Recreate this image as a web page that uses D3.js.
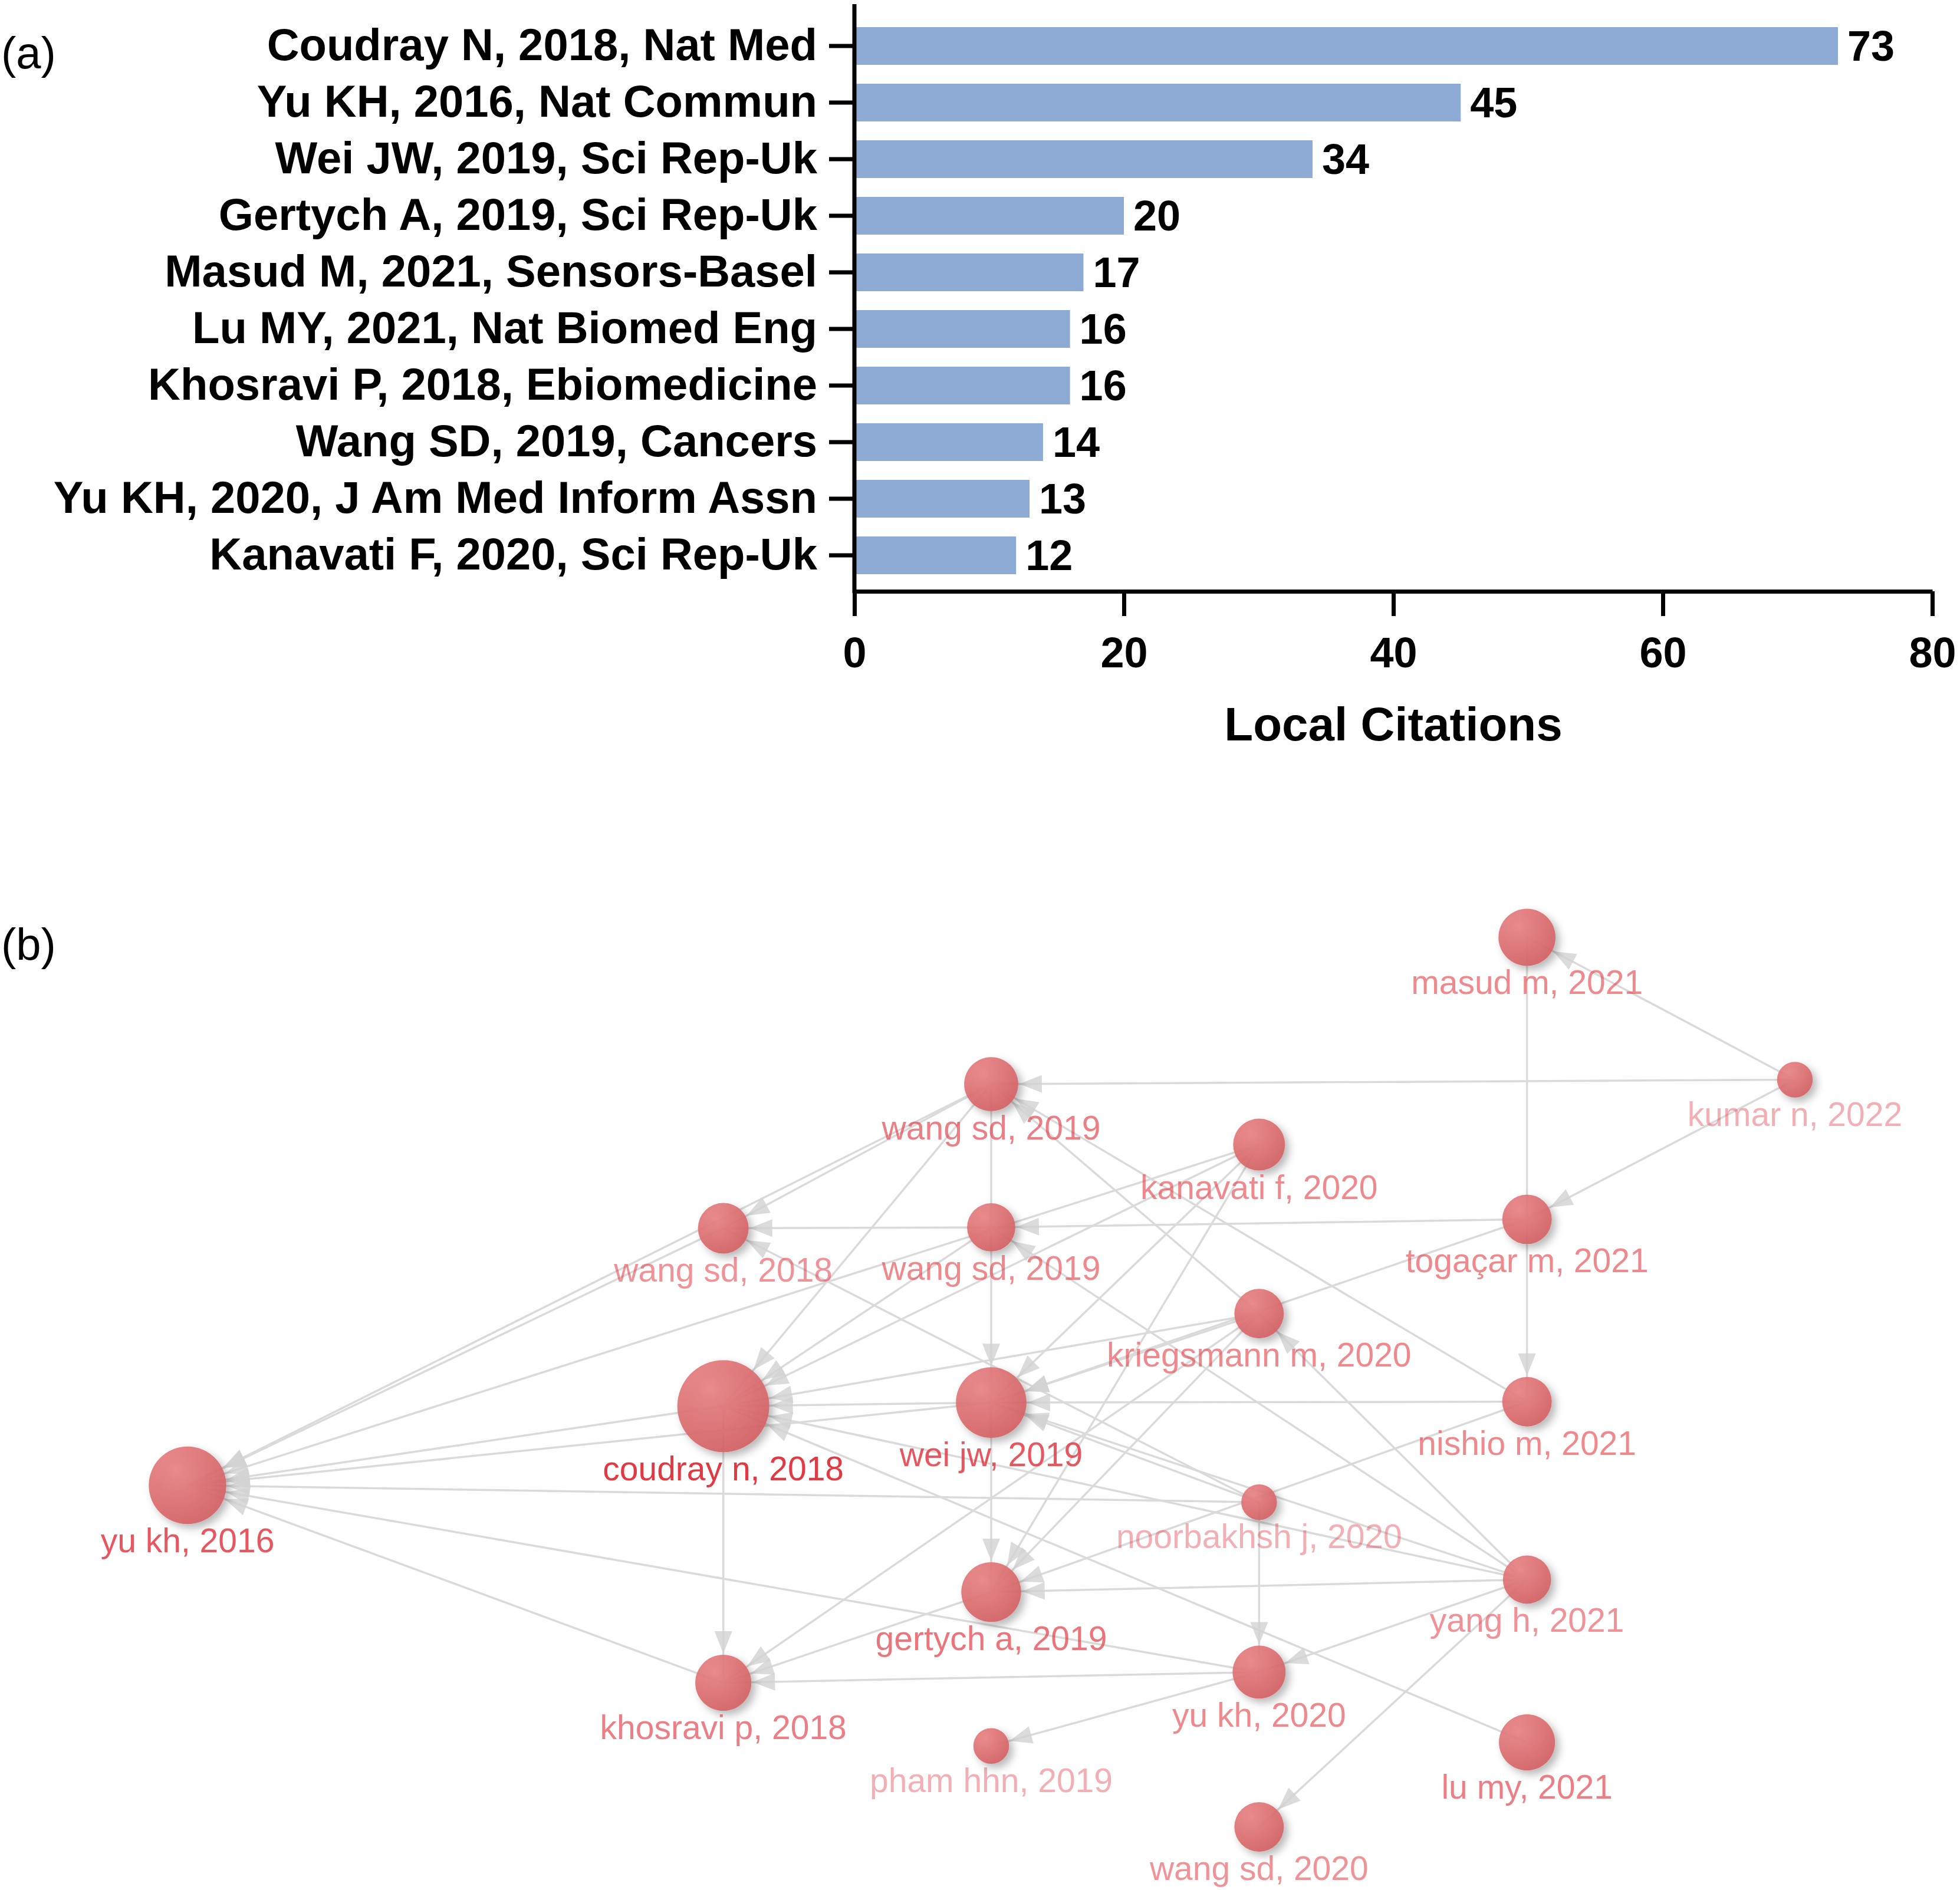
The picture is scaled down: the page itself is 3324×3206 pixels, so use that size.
<!DOCTYPE html>
<html>
<head>
<meta charset="utf-8">
<script src="https://cdn.jsdelivr.net/npm/d3@7"></script>
<style>
  body { margin: 0; background: #fff; }
  text { font-family: Arial, "Liberation Sans", Helvetica, sans-serif; }
</style>
</head>
<body>
<div id="chart"></div>
<script>
// ---- panel (a) data
const articles = ["Coudray N, 2018, Nat Med", "Yu KH, 2016, Nat Commun", "Wei JW, 2019, Sci Rep-Uk",
  "Gertych A, 2019, Sci Rep-Uk", "Masud M, 2021, Sensors-Basel", "Lu MY, 2021, Nat Biomed Eng",
  "Khosravi P, 2018, Ebiomedicine", "Wang SD, 2019, Cancers", "Yu KH, 2020, J Am Med Inform Assn",
  "Kanavati F, 2020, Sci Rep-Uk"]
const citations = [73, 45, 34, 20, 17, 16, 16, 14, 13, 12]
const xTicks = [0, 20, 40, 60, 80]

// ---- panel (b) data
const nodeIds = ["yu16", "coud", "wsd18", "khos", "wsd19a", "wsd19b", "wei", "gert", "pham", "kana",
  "krieg", "noor", "yukh20", "wsd20", "masud", "toga", "nishio", "yang", "lumy", "kumar"]
const nodeLabels = ["yu kh, 2016", "coudray n, 2018", "wang sd, 2018", "khosravi p, 2018", "wang sd, 2019",
  "wang sd, 2019", "wei jw, 2019", "gertych a, 2019", "pham hhn, 2019", "kanavati f, 2020",
  "kriegsmann m, 2020", "noorbakhsh j, 2020", "yu kh, 2020", "wang sd, 2020", "masud m, 2021",
  "togaçar m, 2021", "nishio m, 2021", "yang h, 2021", "lu my, 2021", "kumar n, 2022"]
const nodeYears = [2016, 2018, 2018, 2018, 2019, 2019, 2019, 2019, 2019, 2020,
  2020, 2020, 2020, 2020, 2021, 2021, 2021, 2021, 2021, 2022]
// vertical position in the layout, 0 = top row, 100 = bottom row
const nodeRows = [61.6, 52.7, 32.7, 83.8, 16.5, 32.6, 52.3, 73.6, 90.9, 23.3,
  42.3, 63.5, 82.6, 100, 0, 31.7, 52.2, 72.2, 90.5, 16.0]
const nodeCites = [45, 73, 11, 16, 14, 9, 34, 20, 2, 12, 10, 2, 13, 10, 17, 10, 10, 9, 16, 2]
const labelTone = [0.85, 1, 0.55, 0.65, 0.65, 0.6, 0.85, 0.7, 0.4, 0.6,
  0.6, 0.4, 0.6, 0.55, 0.6, 0.6, 0.6, 0.55, 0.65, 0.4]
// citing -> cited
const links = [
  ["wsd19a", "wsd18"], ["wsd19a", "yu16"], ["wsd19a", "coud"], ["wsd19a", "wei"],
  ["wsd18", "yu16"], ["wsd19b", "wsd18"], ["wsd19b", "coud"],
  ["kana", "yu16"], ["kana", "coud"], ["kana", "wei"], ["kana", "gert"],
  ["coud", "yu16"], ["coud", "khos"], ["wei", "yu16"], ["wei", "coud"], ["wei", "gert"],
  ["noor", "yu16"], ["noor", "wsd18"], ["noor", "wei"], ["noor", "yukh20"],
  ["yukh20", "yu16"], ["yukh20", "khos"], ["yukh20", "pham"], ["khos", "yu16"],
  ["krieg", "wsd19a"], ["krieg", "coud"], ["krieg", "wei"], ["krieg", "gert"], ["krieg", "khos"],
  ["nishio", "wsd19a"], ["nishio", "wei"], ["nishio", "gert"],
  ["toga", "wsd19b"], ["toga", "wei"], ["masud", "nishio"],
  ["kumar", "masud"], ["kumar", "wsd19a"], ["kumar", "toga"],
  ["yang", "wsd19b"], ["yang", "krieg"], ["yang", "wei"], ["yang", "coud"], ["yang", "gert"],
  ["yang", "yukh20"], ["yang", "wsd20"], ["lumy", "coud"], ["gert", "khos"]
]

const W = 3324, H = 3206

const svg = d3.select("#chart").append("svg")
  .attr("width", W)
  .attr("height", H)

// ================= (a) bar chart =================
const x = d3.scaleLinear().domain([0, 80]).range([1449, 3277])
const y = d3.scaleBand().domain(articles).range([30, 990])
  .paddingInner(0.333).paddingOuter(0.1667)
const axisY0 = 7, axisX0 = 1003

svg.append("text")
  .text("(a)")
  .attr("x", 2)
  .attr("y", 116)
  .attr("font-size", 76)

svg.selectAll(".bar")
  .data(articles)
  .join("rect")
    .attr("class", "bar")
    .attr("x", x(0) + 3)
    .attr("y", d => y(d))
    .attr("width", (d, i) => x(citations[i]) - x(0) - 3)
    .attr("height", y.bandwidth())
    .attr("fill", "#8caad3")

svg.selectAll(".val")
  .data(articles)
  .join("text")
    .attr("class", "val")
    .attr("x", (d, i) => x(citations[i]) + 16)
    .attr("y", d => y(d) + y.bandwidth() / 2)
    .attr("dy", "0.35em")
    .attr("font-size", 72)
    .attr("font-weight", "bold")
    .text((d, i) => citations[i])

const gy = svg.append("g")
  .attr("transform", `translate(${x(0)},0)`)
  .call(d3.axisLeft(y).tickSize(43).tickPadding(20))
gy.select(".domain").remove()
gy.selectAll(".tick line").attr("stroke", "#000").attr("stroke-width", 7)
gy.selectAll(".tick text")
  .attr("font-size", 76)
  .attr("font-weight", "bold")
  .attr("font-family", "Arial, 'Liberation Sans', sans-serif")
  .attr("fill", "#000")

svg.append("line")
  .attr("x1", x(0)).attr("x2", x(0))
  .attr("y1", axisY0).attr("y2", axisX0 + 3)
  .attr("stroke", "#000").attr("stroke-width", 7)

const gx = svg.append("g")
  .attr("transform", `translate(0,${axisX0})`)
  .call(d3.axisBottom(x).tickValues(xTicks).tickSize(42).tickSizeOuter(0).tickPadding(36))
gx.select(".domain").attr("stroke-width", 7)
gx.selectAll(".tick line").attr("stroke-width", 7)
gx.selectAll(".tick text")
  .attr("font-size", 72)
  .attr("font-weight", "bold")
  .attr("font-family", "Arial, 'Liberation Sans', sans-serif")
  .attr("fill", "#000")

svg.append("text")
  .text("Local Citations")
  .attr("x", (x(0) + x(80)) / 2)
  .attr("y", 1256)
  .attr("text-anchor", "middle")
  .attr("font-size", 80)
  .attr("font-weight", "bold")

// ================= (b) historiograph =================
svg.append("text")
  .text("(b)")
  .attr("x", 2)
  .attr("y", 1628)
  .attr("font-size", 76)

const nx = d3.scaleLinear().domain([2016, 2022]).range([318, 3044])
const ny = d3.scaleLinear().domain([0, 100]).range([1590, 3099])
const nr = d3.scaleSqrt().domain([0, 73]).range([20.8, 78])

const nodes = nodeIds.map((id, i) => ({
  id: id, label: nodeLabels[i],
  x: nx(nodeYears[i]), y: ny(nodeRows[i]), r: nr(nodeCites[i]), tone: labelTone[i]
}))
const byId = new Map(nodes.map(d => [d.id, d]))

const defs = svg.append("defs")
const grad = defs.append("radialGradient")
  .attr("id", "nodeFill").attr("cx", "35%").attr("cy", "30%").attr("r", "75%")
grad.append("stop").attr("offset", "0%").attr("stop-color", "#ea8385")
grad.append("stop").attr("offset", "100%").attr("stop-color", "#d35f62")
const shadow = defs.append("filter")
  .attr("id", "shadow").attr("x", "-50%").attr("y", "-50%").attr("width", "200%").attr("height", "200%")
shadow.append("feDropShadow")
  .attr("dx", 7).attr("dy", 7).attr("stdDeviation", 7)
  .attr("flood-color", "#000").attr("flood-opacity", 0.3)

const edges = links.map(l => {
  let s = byId.get(l[0]), t = byId.get(l[1])
  let dx = t.x - s.x, dy = t.y - s.y, len = Math.hypot(dx, dy)
  let ux = dx / len, uy = dy / len
  let tip = [t.x - ux * (t.r + 2), t.y - uy * (t.r + 2)]
  let base = [tip[0] - ux * 38, tip[1] - uy * 38]
  let px = -uy * 15, py = ux * 15
  return {s: s, t: t, base: base,
    head: [tip, [base[0] + px, base[1] + py], [base[0] - px, base[1] - py]]}
})

const gEdges = svg.append("g")
gEdges.selectAll("line")
  .data(edges)
  .join("line")
    .attr("x1", d => d.s.x).attr("y1", d => d.s.y)
    .attr("x2", d => d.t.x).attr("y2", d => d.t.y)
    .attr("stroke", "#dadada")
    .attr("stroke-width", 3.5)
gEdges.selectAll("path")
  .data(edges)
  .join("path")
    .attr("d", d => "M" + d.head.map(p => p.join(",")).join("L") + "Z")
    .attr("fill", "#d2d2d2")
    .attr("fill-opacity", 0.8)

svg.append("g").selectAll("circle")
  .data(nodes)
  .join("circle")
    .attr("cx", d => d.x)
    .attr("cy", d => d.y)
    .attr("r", d => d.r)
    .attr("fill", "url(#nodeFill)")
    .attr("fill-opacity", 0.9)
    .attr("filter", "url(#shadow)")

svg.append("g").selectAll("text")
  .data(nodes)
  .join("text")
    .attr("x", d => d.x)
    .attr("y", d => d.y + d.r + 48)
    .attr("text-anchor", "middle")
    .attr("font-size", 57)
    .attr("fill", "#e23a43")
    .attr("fill-opacity", d => d.tone)
    .text(d => d.label)
</script>
</body>
</html>
